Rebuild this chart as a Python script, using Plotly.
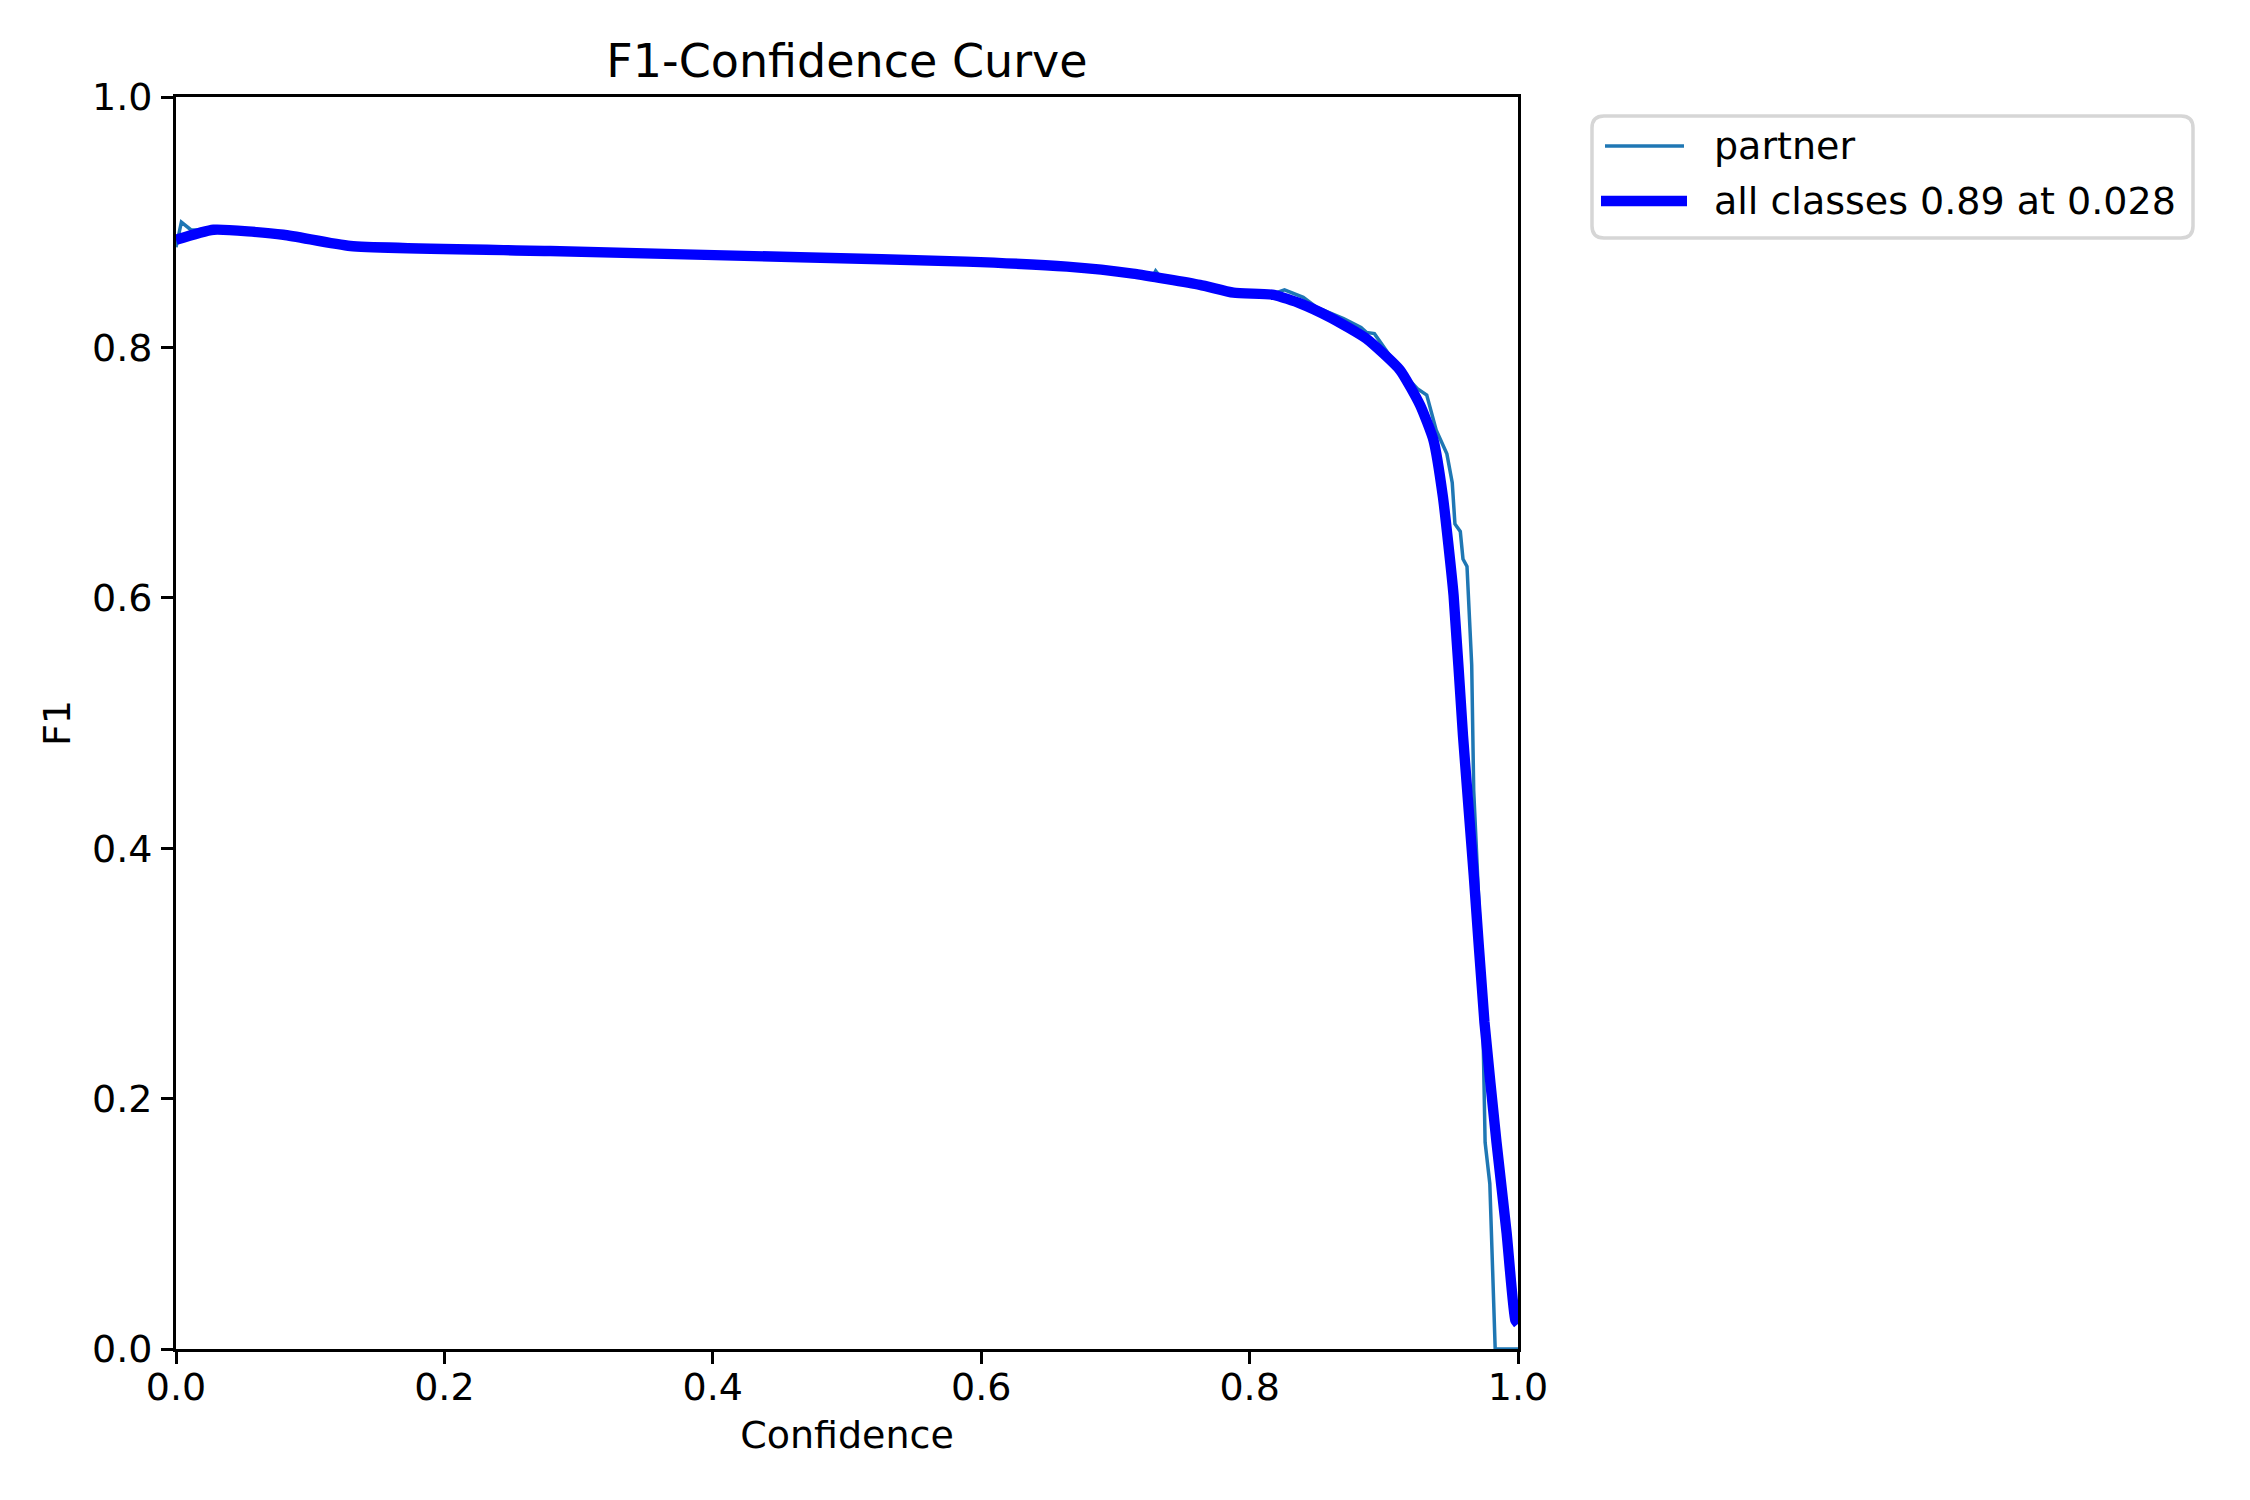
import plotly.graph_objects as go

# F1 vs confidence
conf_partner = [0.0, 0.004, 0.011, 0.028, 0.08, 0.13, 0.28, 0.465, 0.589, 0.664,
                0.713, 0.728, 0.730, 0.733, 0.763, 0.788, 0.818, 0.826, 0.840, 0.850,
                0.870, 0.883, 0.887, 0.893, 0.912, 0.925, 0.932, 0.939, 0.947, 0.951,
                0.953, 0.957, 0.959, 0.962, 0.9655, 0.967, 0.973, 0.9755, 0.979, 0.983, 1.0]
f1_partner = [0.880, 0.900, 0.894, 0.893, 0.889, 0.881, 0.877, 0.872, 0.8685, 0.8645,
              0.859, 0.857, 0.861, 0.857, 0.850, 0.8437, 0.843, 0.846, 0.840, 0.832,
              0.823, 0.816, 0.812, 0.811, 0.782, 0.767, 0.762, 0.734, 0.715, 0.692,
              0.659, 0.653, 0.631, 0.625, 0.5465, 0.446, 0.306, 0.165, 0.132, 0.0, 0.0]

conf_all = [0.0, 0.028, 0.08, 0.13, 0.279, 0.465, 0.589, 0.664, 0.713, 0.763,
            0.788, 0.818, 0.838, 0.860, 0.887, 0.912, 0.927, 0.937, 0.944, 0.952,
            0.959, 0.967, 0.975, 0.984, 0.9915, 0.998, 1.0]
f1_all = [0.886, 0.894, 0.890, 0.881, 0.877, 0.872, 0.8685, 0.8645, 0.859, 0.850,
          0.8437, 0.842, 0.835, 0.824, 0.807, 0.782, 0.754, 0.726, 0.681, 0.602,
          0.490, 0.379, 0.261, 0.165, 0.093, 0.023, 0.020]

series_names = ["partner", "all classes 0.89 at 0.028"]
series_colors = ["#1f77b4", "#0000ff"]
series_widths = [3.5, 10.4]

tick_vals = [0.0, 0.2, 0.4, 0.6, 0.8, 1.0]
tick_text = ["0.0", "0.2", "0.4", "0.6", "0.8", "1.0"]

FONT = "DejaVu Sans"
W, H = 2250, 1500
L, R, T, B = 176, 1518, 97, 1349  # plot area in pixels


def px(xp):
    return (xp - L) / (R - L)


def py(yp):
    return (B - yp) / (B - T)


fig = go.Figure()
fig.add_trace(go.Scatter(x=conf_partner, y=f1_partner, mode="lines", name=series_names[0],
                         line=dict(color=series_colors[0], width=series_widths[0])))
fig.add_trace(go.Scatter(x=conf_all, y=f1_all, mode="lines", name=series_names[1],
                         line=dict(color=series_colors[1], width=series_widths[1],
                                   shape="spline", smoothing=0.5)))

axis_style = dict(
    range=[0, 1], tickvals=tick_vals, ticktext=tick_text,
    showgrid=False, zeroline=False,
    showline=True, linecolor="black", linewidth=2.8, mirror=True,
    ticks="outside", ticklen=12, tickwidth=2.8, tickcolor="black",
    tickfont=dict(family=FONT, size=38, color="black"),
)

# legend drawn by hand, matplotlib-style (long handles, rounded frame)
x0, x1, y0, y1, r = px(1592), px(2193), py(116), py(238), 12
rx, ry = r / (R - L), r / (B - T)
frame = (f"M {x0 + rx},{y0} L {x1 - rx},{y0} Q {x1},{y0} {x1},{y0 - ry} "
         f"L {x1},{y1 + ry} Q {x1},{y1} {x1 - rx},{y1} L {x0 + rx},{y1} "
         f"Q {x0},{y1} {x0},{y1 + ry} L {x0},{y0 - ry} Q {x0},{y0} {x0 + rx},{y0} Z")
shapes = [dict(type="path", path=frame, xref="paper", yref="paper",
               line=dict(color="#d6d6d6", width=3.5), fillcolor="white", layer="above")]
annotations = []
row_y = [146, 201]
handle_x = [(1605, 1684), (1601, 1687)]
for name, color, width, yy, (hx0, hx1) in zip(series_names, series_colors, series_widths,
                                              row_y, handle_x):
    shapes.append(dict(type="line", xref="paper", yref="paper",
                       x0=px(hx0), x1=px(hx1), y0=py(yy), y1=py(yy),
                       line=dict(color=color, width=width), layer="above"))
    annotations.append(dict(text=name, xref="paper", yref="paper", x=px(1712), y=py(yy),
                            xanchor="left", yanchor="middle", showarrow=False,
                            font=dict(family=FONT, size=38, color="black")))

fig.update_layout(
    width=W, height=H, autosize=False,
    paper_bgcolor="white", plot_bgcolor="white",
    margin=dict(l=L, r=W - R, t=T, b=H - B),
    font=dict(family=FONT, color="black"),
    title=dict(text="F1-Confidence Curve", x=(L + R) / 2 / W, xanchor="center", xref="container",
               y=1 - 61 / H, yanchor="middle", yref="container",
               font=dict(family=FONT, size=46, color="black")),
    xaxis=dict(**axis_style, ticklabelstandoff=-10,
               title=dict(text="Confidence", standoff=14,
                          font=dict(family=FONT, size=38, color="black"))),
    yaxis=dict(**axis_style, ticklabelstandoff=1,
               title=dict(text="F1", standoff=10,
                          font=dict(family=FONT, size=38, color="black"))),
    shapes=shapes,
    annotations=annotations,
    showlegend=False,
)

fig.write_html("out.html", config={"displayModeBar": False},
               post_script="document.body.style.margin='0';")
